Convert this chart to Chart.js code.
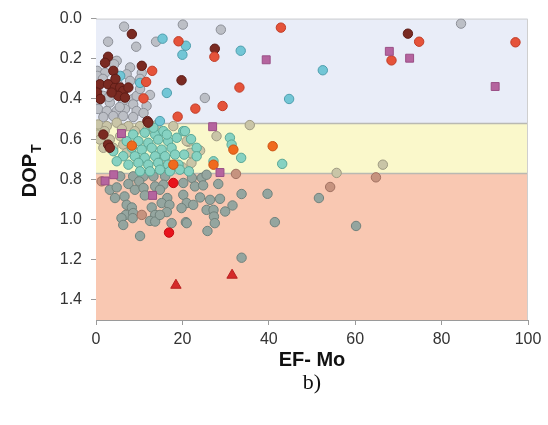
<!DOCTYPE html>
<html>
<head>
<meta charset="utf-8">
<script src="https://cdn.jsdelivr.net/npm/chart.js@4.4.1/dist/chart.umd.min.js"></script>
<style>
  html, body { margin: 0; padding: 0; background: #fff; }
  #wrap { width: 548px; height: 425px; position: relative; }
</style>
</head>
<body>
<div id="wrap"><canvas id="dopChart"></canvas></div>
<script>
// EF-Mo vs DOP_T, samples grouped by colour class
const xTicks = [0, 20, 40, 60, 80, 100];
const yTicks = [0.0, 0.2, 0.4, 0.6, 0.8, 1.0, 1.2, 1.4];
const bandLimits = [0, 0.52, 0.77, 1.5];

const grayPts = [[6.5,0.04],[20.1,0.03],[28.9,0.055],[84.5,0.025],[2.8,0.115],[9.3,0.14],[13.9,0.115],[25.2,0.395],
  [4.8,0.21],[4.2,0.227],[0.3,0.26],[2.1,0.27],[7.9,0.243],[7.1,0.277],[10.6,0.27],[10.2,0.30],[7.9,0.31],[3.2,0.327],
  [0.3,0.32],[0.3,0.36],[1.7,0.385],[4.0,0.377],[6.3,0.368],[8.6,0.40],[9.4,0.385],[0.5,0.41],[3.2,0.418],[6.3,0.41],
  [8.6,0.427],[0.5,0.45],[2.5,0.46],[4.8,0.46],[6.7,0.45],[9.4,0.46],[1.7,0.49],[4.0,0.485],[6.3,0.485],[8.6,0.49],
  [11.7,0.435],[10.2,0.35],[0.3,0.285],[1.6,0.30],[5.5,0.44],[3.0,0.39],[11.0,0.47],[12.5,0.38],[5.2,0.33]];

const brownPts = [[8.3,0.077],[10.6,0.235],[2.8,0.19],[2.1,0.22],[4.0,0.26],[0.9,0.327],[2.8,0.327],[4.4,0.343],
  [5.6,0.343],[6.3,0.36],[5.2,0.385],[6.7,0.393],[0.2,0.368],[3.6,0.368],[7.5,0.343],[19.8,0.307],[27.5,0.15],
  [11.9,0.51],[72.2,0.075],[1.7,0.577],[2.8,0.627],[3.2,0.643],[12.1,0.518],[1.0,0.40],[4.5,0.30]];

const cyanPts = [[15.4,0.10],[20.8,0.135],[20.0,0.18],[33.5,0.16],[16.4,0.37],[5.6,0.285],[10.2,0.32],
  [52.5,0.257],[44.7,0.40],[14.8,0.51]];

const redOrangePts = [[19.1,0.113],[27.4,0.19],[13.0,0.26],[11.6,0.315],[11.0,0.397],[33.2,0.343],[29.3,0.435],
  [23.0,0.448],[18.9,0.488],[42.8,0.045],[74.8,0.115],[68.4,0.208],[97.1,0.118]];

const orangePts = [[31.8,0.652],[27.2,0.727],[8.3,0.632],[17.9,0.727],[40.9,0.635]];

const purplePts = [[39.4,0.205],[67.9,0.163],[72.6,0.197],[92.4,0.338],[27.0,0.538],[5.9,0.572],[4.1,0.777],
  [2.1,0.808],[28.7,0.766],[13.1,0.88]];

const redPts = [[17.9,0.818],[16.9,1.065]];
const trianglePts = [[18.5,1.327],[31.5,1.277]];

const pinkPts = [[54.2,0.838],[64.8,0.79],[10.6,0.977],[32.4,0.773],[1.3,0.81]];

const beigePts = [[55.7,0.768],[66.4,0.727],[35.6,0.53],[27.9,0.585],[21.4,0.613],[24.1,0.657],[22.1,0.718],
  [17.9,0.535],[0.5,0.527],[2.5,0.535],[4.8,0.518],[7.5,0.535],[0.3,0.577],[0.9,0.602],[3.2,0.602],[5.6,0.585],
  [1.7,0.643],[4.0,0.643],[6.3,0.627],[7.1,0.668],[10.2,0.535],[14.0,0.53],[21.0,0.61],[21.8,0.668],[2.0,0.56],
  [6.0,0.55],[9.0,0.56],[12.0,0.545],[16.0,0.70],[20.0,0.74]];

const tealPts = [[43.1,0.723],[33.6,0.693],[31.0,0.593],[31.4,0.627],[20.2,0.56],[23.3,0.643],[23.3,0.685],
  [20.4,0.677],[27.2,0.71],[8.6,0.577],[11.3,0.568],[13.7,0.577],[15.6,0.56],[9.8,0.61],[12.1,0.618],[14.4,0.602],
  [16.7,0.61],[8.3,0.643],[10.6,0.652],[12.9,0.643],[15.2,0.652],[17.5,0.643],[6.3,0.685],[9.0,0.685],[11.3,0.693],
  [13.7,0.685],[16.0,0.685],[18.3,0.677],[4.8,0.71],[7.5,0.727],[9.8,0.718],[12.1,0.727],[14.4,0.718],[16.7,0.727],
  [19.1,0.727],[10.2,0.76],[12.5,0.76],[14.8,0.752],[17.1,0.76],[19.4,0.752],[20.6,0.56],[7.1,0.61],[4.0,0.66],
  [13.3,0.543],[18.7,0.593],[16.4,0.577],[22.0,0.60],[21.5,0.76]];

const grayGreenPts = [[33.7,0.873],[39.7,0.872],[51.6,0.893],[41.4,1.013],[60.2,1.032],[33.7,1.19],
  [22.2,0.793],[24.5,0.793],[25.6,0.777],[20.2,0.818],[22.9,0.835],[24.8,0.83],[28.3,0.823],[20.2,0.877],
  [24.1,0.89],[26.4,0.902],[28.7,0.897],[31.6,0.93],[21.0,0.918],[22.5,0.927],[19.8,0.943],[25.6,0.952],
  [27.2,0.952],[29.9,0.96],[27.3,0.985],[27.5,1.018],[20.8,1.013],[25.8,1.057],
  [5.6,0.785],[8.6,0.785],[11.0,0.785],[13.3,0.785],[16.0,0.785],[3.2,0.852],[4.8,0.84],[7.5,0.823],[10.0,0.81],
  [9.0,0.852],[11.0,0.843],[13.7,0.835],[15.6,0.827],[11.3,0.88],[14.8,0.852],[16.5,0.893],[4.4,0.893],[6.6,0.885],
  [7.1,0.927],[8.3,0.94],[12.9,0.94],[15.2,0.918],[17.0,0.927],[6.9,0.977],[8.6,0.968],[13.7,0.977],[16.4,0.963],
  [5.9,0.993],[6.3,1.027],[8.5,0.993],[12.5,1.007],[13.7,1.01],[14.8,0.977],[17.5,1.018],[21.0,1.018],[10.2,1.082]];

function toXY(list) {
  return list.map(p => ({ x: p[0], y: p[1] }));
}

function series(pts, fill, border, style, radius) {
  return {
    data: toXY(pts),
    backgroundColor: fill,
    borderColor: border,
    borderWidth: 1,
    pointStyle: style || 'circle',
    pointRadius: radius || 4.7,
    pointHoverRadius: radius || 4.7
  };
}

// coloured DOP bands behind the points, plus frame
const bandPlugin = {
  id: 'bands',
  beforeDatasetsDraw(chart) {
    const { ctx, chartArea, scales } = chart;
    const colors = ['#e9edf8', '#faf8cb', '#f9c8b2'];
    ctx.save();
    for (let i = 0; i < colors.length; i++) {
      const y0 = scales.y.getPixelForValue(bandLimits[i]);
      const y1 = scales.y.getPixelForValue(bandLimits[i + 1]);
      ctx.fillStyle = colors[i];
      ctx.fillRect(chartArea.left, y0, chartArea.right - chartArea.left, y1 - y0);
    }
    ctx.strokeStyle = '#b9b9b2';
    ctx.lineWidth = 1.5;
    [bandLimits[1], bandLimits[2]].forEach(v => {
      const y = Math.round(scales.y.getPixelForValue(v)) + 0.5;
      ctx.beginPath();
      ctx.moveTo(chartArea.left, y);
      ctx.lineTo(chartArea.right, y);
      ctx.stroke();
    });
    ctx.strokeStyle = '#cfcfcf';
    ctx.lineWidth = 1;
    ctx.beginPath();
    ctx.moveTo(chartArea.left, chartArea.top + 0.5);
    ctx.lineTo(chartArea.right - 0.5, chartArea.top + 0.5);
    ctx.lineTo(chartArea.right - 0.5, chartArea.bottom);
    ctx.stroke();
    ctx.restore();
  }
};

// axis titles (with subscript) and panel label
const titlePlugin = {
  id: 'titles',
  afterDraw(chart) {
    const { ctx, chartArea } = chart;
    ctx.save();
    ctx.fillStyle = '#111';
    ctx.textBaseline = 'middle';

    ctx.translate(30, (chartArea.top + chartArea.bottom) / 2 + 2);
    ctx.rotate(-Math.PI / 2);
    ctx.font = 'bold 20px "Liberation Sans", Arial, sans-serif';
    const w1 = ctx.measureText('DOP').width;
    ctx.font = 'bold 14px "Liberation Sans", Arial, sans-serif';
    const w2 = ctx.measureText('T').width;
    const start = -(w1 + w2) / 2;
    ctx.font = 'bold 20px "Liberation Sans", Arial, sans-serif';
    ctx.textAlign = 'left';
    ctx.fillText('DOP', start, 0);
    ctx.font = 'bold 14px "Liberation Sans", Arial, sans-serif';
    ctx.fillText('T', start + w1 + 1, 7);
    ctx.restore();

    ctx.save();
    ctx.fillStyle = '#111';
    ctx.textAlign = 'center';
    ctx.textBaseline = 'middle';
    const cx = (chartArea.left + chartArea.right) / 2;
    ctx.font = 'bold 20px "Liberation Sans", Arial, sans-serif';
    ctx.fillText('EF- Mo', cx, 360);
    ctx.font = '22px "Liberation Serif", "Times New Roman", serif';
    ctx.fillText('b)', cx, 383);
    ctx.restore();
  }
};

const ctx = document.getElementById('dopChart').getContext('2d');
new Chart(ctx, {
  type: 'scatter',
  data: {
    datasets: [
      series(trianglePts, '#d52a2a', '#b81f1f', 'triangle', 6),
      series(redPts, '#e8141c', '#c40c12'),
      series(purplePts, '#b5649f', '#9a4f86', 'rect', 5.6),
      series(orangePts, '#f06a1e', '#cc5414'),
      series(redOrangePts, '#e5533a', '#c23c26'),
      series(brownPts, '#7a2a22', '#5e1c16'),
      series(cyanPts, '#72c6d6', '#4f9fae'),
      series(tealPts, '#86d2c2', '#5aa796'),
      series(beigePts, '#c9c5a7', '#9f9b82'),
      series(grayPts, '#bcbfc6', '#8d9098'),
      series(pinkPts, '#c6937f', '#a27262'),
      series(grayGreenPts, '#94a59f', '#71827c')
    ]
  },
  options: {
    responsive: true,
    maintainAspectRatio: false,
    animation: false,
    layout: { padding: { left: 0, right: 20, top: 18, bottom: 0 } },
    plugins: {
      legend: { display: false },
      tooltip: { enabled: false }
    },
    scales: {
      x: {
        type: 'linear',
        min: 0,
        max: 100,
        afterFit: scale => { scale.height = 105; },
        afterBuildTicks: scale => { scale.ticks = xTicks.map(v => ({ value: v })); },
        grid: { drawOnChartArea: false, drawTicks: true, tickLength: 5, color: '#9a9a9a' },
        border: { display: true, color: '#9a9a9a', width: 1 },
        ticks: {
          padding: 5,
          color: '#333',
          font: { family: '"Liberation Sans", Arial, sans-serif', size: 16 },
          maxRotation: 0
        }
      },
      y: {
        type: 'linear',
        reverse: true,
        min: 0,
        max: 1.5,
        afterFit: scale => { scale.width = 96; },
        afterBuildTicks: scale => { scale.ticks = yTicks.map(v => ({ value: v })); },
        grid: { drawOnChartArea: false, drawTicks: true, tickLength: 5, color: '#9a9a9a' },
        border: { display: true, color: '#9a9a9a', width: 1 },
        ticks: {
          padding: 9,
          color: '#333',
          font: { family: '"Liberation Sans", Arial, sans-serif', size: 16 },
          callback: v => Number(v).toFixed(1)
        }
      }
    }
  },
  plugins: [bandPlugin, titlePlugin]
});
</script>
</body>
</html>
